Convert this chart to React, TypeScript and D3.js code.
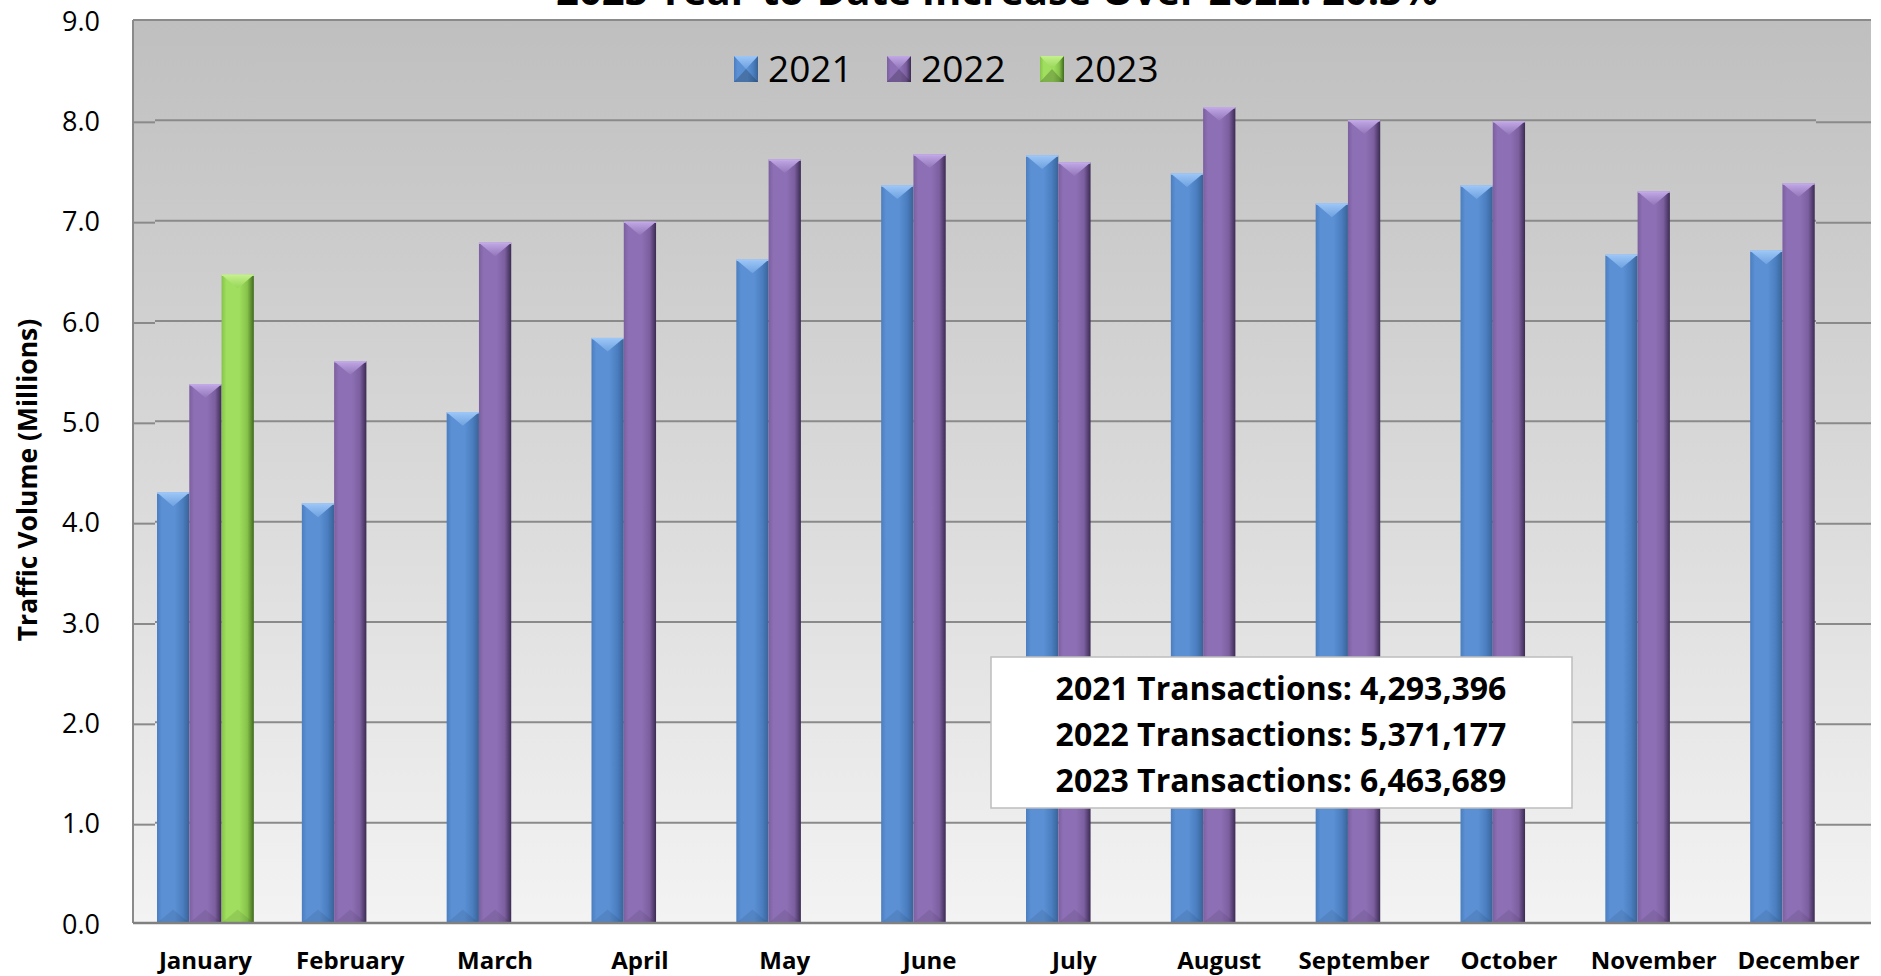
import React from 'react';
import * as d3 from 'd3';

// values in millions
const months = ['January', 'February', 'March', 'April', 'May', 'June', 'July', 'August', 'September', 'October', 'November', 'December'];
const seriesNames = ['2021', '2022', '2023'];
const values2021 = [4.29, 4.18, 5.09, 5.83, 6.61, 7.35, 7.65, 7.47, 7.17, 7.35, 6.66, 6.70];
const values2022 = [5.37, 5.60, 6.78, 6.99, 7.61, 7.66, 7.58, 8.13, 8.00, 7.99, 7.29, 7.37];
const values2023 = [6.46, null, null, null, null, null, null, null, null, null, null, null];
const yTicks = [0, 1, 2, 3, 4, 5, 6, 7, 8, 9];
const januaryTotals = [4293396, 5371177, 6463689];
const title = '2023 Year-to-Date Increase Over 2022: 20.3%';

const W = 1881;
const H = 976;
const left = 133, right = 1871, top = 20, bottom = 923;
const wallDepth = 22; // left side wall of the 3d plot
const backRight = 1816;

const colors = {
  '2021': { l: '#4a7ec0', m: '#5b90d4', d: '#3a6396', hi: '#9cc6f7', hi2: '#6fa2e0' },
  '2022': { l: '#7c5f9f', m: '#8d6fb5', d: '#3b2b53', hi: '#c2a8e6', hi2: '#9276ba' },
  '2023': { l: '#86c24a', m: '#9fde5e', d: '#3f6a1c', hi: '#c4f08c', hi2: '#96d656' },
};

export default function App() {
  const x0 = d3.scaleBand().domain(months).range([left, right]).padding(0);
  const inset = 24;
  const x1 = d3.scaleBand().domain(seriesNames).range([inset, x0.bandwidth() - inset]);
  const y = d3.scaleLinear().domain([0, 9]).range([bottom, top]);
  const fmt = d3.format(',');

  const rows = months.map((m, i) => ({
    month: m,
    bars: [
      { key: '2021', value: values2021[i] },
      { key: '2022', value: values2022[i] },
      { key: '2023', value: values2023[i] },
    ].filter(b => b.value != null) as { key: string; value: number }[],
  }));

  const bw = x1.bandwidth();
  const font = '"Open Sans", sans-serif';

  return (
    <svg width={W} height={H} style={{ position: 'absolute', left: 0, top: 0, background: '#fff' }}>
      <defs>
        <linearGradient id="bg" x1="0" y1="0" x2="0" y2="1">
          <stop offset="0%" stopColor="#bfbfbf" />
          <stop offset="100%" stopColor="#f3f3f3" />
        </linearGradient>
        {seriesNames.map(s => (
          <React.Fragment key={s}>
            <linearGradient id={'bar' + s} x1="0" y1="0" x2="1" y2="0">
              <stop offset="0%" stopColor={colors[s].l} />
              <stop offset="15%" stopColor={colors[s].m} />
              <stop offset="55%" stopColor={colors[s].m} />
              <stop offset="80%" stopColor={colors[s].l} />
              <stop offset="100%" stopColor={colors[s].d} />
            </linearGradient>
            <linearGradient id={'cap' + s} x1="0" y1="0" x2="0" y2="1">
              <stop offset="0%" stopColor={colors[s].hi} />
              <stop offset="100%" stopColor={colors[s].hi2} />
            </linearGradient>
          </React.Fragment>
        ))}
      </defs>

      {/* plot background */}
      <rect x={left} y={top} width={right - left} height={bottom - top} fill="url(#bg)" />

      {/* gridlines: back wall + side pieces */}
      {yTicks.filter(t => t > 0 && t < 9).map(t => (
        <g key={t} stroke="#8a8a8a" strokeWidth={2}>
          <line x1={left + wallDepth} x2={backRight} y1={y(t)} y2={y(t)} />
          <line x1={left} x2={left + wallDepth} y1={y(t) + 2} y2={y(t) + 2} />
          <line x1={backRight} x2={right} y1={y(t) + 2} y2={y(t) + 2} />
        </g>
      ))}
      <line x1={left} x2={right} y1={top} y2={top} stroke="#8a8a8a" strokeWidth={2} />
      <line x1={left} x2={left} y1={top} y2={bottom} stroke="#8a8a8a" strokeWidth={2} />

      {/* bars */}
      {rows.map(r => (
        <g key={r.month} transform={`translate(${x0(r.month)},0)`}>
          {r.bars.map(b => {
            const bx = x1(b.key)!;
            const by = y(b.value);
            const h = bottom - by;
            const cap = bw * 0.42;
            return (
              <g key={b.key}>
                <rect x={bx} y={by} width={bw} height={h} fill={`url(#bar${b.key})`} />
                <polygon
                  points={`${bx},${by} ${bx + bw},${by} ${bx + bw / 2},${by + cap}`}
                  fill={`url(#cap${b.key})`}
                />
                <polygon
                  points={`${bx},${bottom} ${bx + bw},${bottom} ${bx + bw / 2},${bottom - cap}`}
                  fill="#000"
                  opacity={0.08}
                />
                <line x1={bx} x2={bx + bw} y1={by + 0.5} y2={by + 0.5} stroke={colors[b.key].hi} strokeWidth={1.5} />
              </g>
            );
          })}
        </g>
      ))}

      {/* baseline */}
      <line x1={left} x2={right} y1={bottom} y2={bottom} stroke="#808080" strokeWidth={2.5} />

      {/* y tick labels */}
      {yTicks.map(t => (
        <text key={t} x={100} y={y(t)} textAnchor="end" dominantBaseline="central"
          fontFamily={font} fontSize={27} fill="#000">
          {d3.format('.1f')(t)}
        </text>
      ))}

      {/* x labels */}
      {months.map(m => (
        <text key={m} x={x0(m)! + x0.bandwidth() / 2} y={969} textAnchor="middle"
          fontFamily={font} fontWeight="bold" fontSize={24} fill="#000">
          {m}
        </text>
      ))}

      {/* y axis title */}
      <text transform="translate(27,480) rotate(-90)" textAnchor="middle" dominantBaseline="central"
        fontFamily={font} fontWeight="bold" fontSize={26.5} fill="#000">
        Traffic Volume (Millions)
      </text>

      {/* title, cut off at the top like the original */}
      <text x={997} y={5} textAnchor="middle" fontFamily={font} fontWeight="bold" fontSize={40} fill="#000">
        {title}
      </text>

      {/* legend */}
      {seriesNames.map((s, i) => {
        const lx = 734 + i * 153;
        const ly = 56;
        const mw = 24, mh = 26;
        return (
          <g key={s}>
            <rect x={lx} y={ly} width={mw} height={mh} fill={`url(#bar${s})`} />
            <polygon points={`${lx},${ly} ${lx + mw},${ly} ${lx + mw / 2},${ly + mh / 2}`} fill={`url(#cap${s})`} />
            <polygon points={`${lx},${ly + mh} ${lx + mw},${ly + mh} ${lx + mw / 2},${ly + mh / 2}`} fill="#000" opacity={0.2} />
            <text x={lx + 34} y={ly + 26} fontFamily={font} fontSize={37} fill="#000">{s}</text>
          </g>
        );
      })}

      {/* summary box */}
      <rect x={991} y={657} width={581} height={151} fill="#fff" stroke="#bdbdbd" strokeWidth={1.5} />
      {seriesNames.map((s, i) => (
        <text key={s} x={1281} y={700 + i * 46} textAnchor="middle" fontFamily={font} fontWeight="bold" fontSize={32} fill="#000">
          {`${s} Transactions: ${fmt(januaryTotals[i])}`}
        </text>
      ))}
    </svg>
  );
}
